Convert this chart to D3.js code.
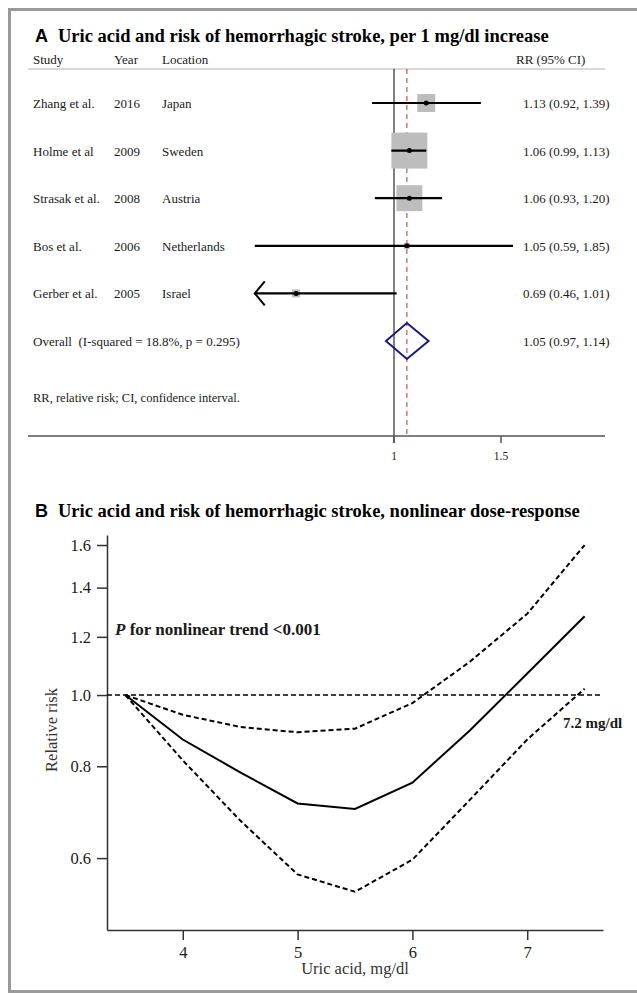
<!DOCTYPE html>
<html>
<head>
<meta charset="utf-8">
<script src="https://cdn.jsdelivr.net/npm/d3@7"></script>
<style>
  body { margin: 0; background: #fff; }
  text { font-family: "Liberation Serif", "Times New Roman", serif; fill: #1a1a1a; white-space: pre; }
</style>
</head>
<body>
<svg width="637" height="994"></svg>
<script>
// ---- panel A: forest plot ----
const studies = ["Zhang et al.", "Holme et al", "Strasak et al.", "Bos et al.", "Gerber et al."];
const years = ["2016", "2009", "2008", "2006", "2005"];
const locations = ["Japan", "Sweden", "Austria", "Netherlands", "Israel"];
const rr = [1.13, 1.06, 1.06, 1.05, 0.69];
const rrLower = [0.92, 0.99, 0.93, 0.59, 0.46];
const rrUpper = [1.39, 1.13, 1.20, 1.85, 1.01];
const weights = [13.5, 54, 28, 1.5, 2.7];
const overallRR = [1.05, 0.97, 1.14];
const forestTicks = [1, 1.5];
const forestLimits = [0.59, 1.57];

// ---- panel B: dose-response ----
const uricAcid = [3.5, 4, 4.5, 5, 5.5, 6, 6.5, 7, 7.5];
const rrCurve = [1.0, 0.87, 0.785, 0.712, 0.70, 0.76, 0.895, 1.07, 1.28];
const rrCurveLow = [1.0, 0.815, 0.675, 0.57, 0.54, 0.597, 0.72, 0.87, 1.02];
const rrCurveHigh = [1.0, 0.94, 0.905, 0.89, 0.90, 0.975, 1.11, 1.29, 1.60];
const yTicksB = [0.6, 0.8, 1.0, 1.2, 1.4, 1.6];
const xTicksB = [4, 5, 6, 7];
const yLimitsB = [0.479, 1.651];
const xLimitsB = [3.34, 7.66];

let svg = d3.select("svg");

// gray frame
svg.append("rect")
    .attr("x", 9.5).attr("y", 9.5)
    .attr("width", 700).attr("height", 982)
    .attr("fill", "none")
    .attr("stroke", "#9a9a9a")
    .attr("stroke-width", 3);

function panelTitle(letter, label, y) {
    svg.append("text")
        .attr("x", 35).attr("y", y)
        .style("font-family", "Liberation Sans, Arial, sans-serif")
        .style("font-weight", "bold")
        .style("font-size", "18px")
        .style("fill", "#000")
        .text(letter);
    svg.append("text")
        .attr("x", 58).attr("y", y)
        .style("font-weight", "bold")
        .style("font-size", "18.5px")
        .style("fill", "#000")
        .text(label);
}

drawForest();
drawDoseResponse();

function drawForest() {
    panelTitle("A", "Uric acid and risk of hemorrhagic stroke, per 1 mg/dl increase", 42);

    let x = d3.scaleLog().domain(forestTicks).range([394, 501]);
    let xMin = x(forestLimits[0]), xMax = x(forestLimits[1]);
    let y = d3.scaleLinear().domain([0, studies.length]).range([103, 341]);
    let box = d3.scaleSqrt().domain([0, d3.max(weights)]).range([0, 36]);

    let cols = [33, 114, 162, 523];
    let g = svg.append("g").attr("class", "forest");

    // header
    ["Study", "Year", "Location", "RR (95% CI)"].forEach(function(h, i) {
        g.append("text").attr("x", i == 3 ? 516 : cols[i]).attr("y", 64)
            .style("font-size", "13px").text(h);
    });
    g.append("line")
        .attr("x1", 28).attr("x2", 605).attr("y1", 69).attr("y2", 69)
        .attr("stroke", "#b0b0b0").attr("stroke-width", 1);

    // null line and overall line
    g.append("line")
        .attr("x1", x(1)).attr("x2", x(1)).attr("y1", 69).attr("y2", 443)
        .attr("stroke", "#000").attr("stroke-width", 1);
    g.append("line")
        .attr("x1", x(overallRR[0])).attr("x2", x(overallRR[0])).attr("y1", 69).attr("y2", 436)
        .attr("stroke", "#b83232").attr("stroke-width", 1)
        .attr("stroke-dasharray", "5,4");

    let rows = g.selectAll("g.row")
        .data(studies)
        .enter().append("g").attr("class", "row")
        .attr("transform", function(d, i) { return "translate(0," + y(i) + ")"; });

    rows.append("text").attr("x", cols[0]).attr("y", 5).style("font-size", "13px").text(function(d) { return d; });
    rows.append("text").attr("x", cols[1]).attr("y", 5).style("font-size", "13px").text(function(d, i) { return years[i]; });
    rows.append("text").attr("x", cols[2]).attr("y", 5).style("font-size", "13px").text(function(d, i) { return locations[i]; });
    rows.append("text").attr("x", cols[3]).attr("y", 5).style("font-size", "13px")
        .text(function(d, i) { return rr[i].toFixed(2) + " (" + rrLower[i].toFixed(2) + ", " + rrUpper[i].toFixed(2) + ")"; });

    rows.append("rect")
        .attr("x", function(d, i) { return x(rr[i]) - box(weights[i]) / 2; })
        .attr("y", function(d, i) { return -box(weights[i]) / 2; })
        .attr("width", function(d, i) { return box(weights[i]); })
        .attr("height", function(d, i) { return box(weights[i]); })
        .attr("fill", "#bdbdbd");

    rows.append("line")
        .attr("x1", function(d, i) { return Math.max(xMin, x(rrLower[i])); })
        .attr("x2", function(d, i) { return Math.min(xMax, x(rrUpper[i])); })
        .attr("y1", 0).attr("y2", 0)
        .attr("stroke", "#000").attr("stroke-width", 2.2);

    // arrow where the CI runs past the left of the axis range
    rows.filter(function(d, i) { return rrLower[i] < forestLimits[0]; })
        .append("path")
        .attr("d", "M" + (xMin + 10) + ",-12L" + xMin + ",0L" + (xMin + 10) + ",12")
        .attr("fill", "none").attr("stroke", "#000").attr("stroke-width", 2);

    rows.append("circle")
        .attr("cx", function(d, i) { return x(rr[i]); })
        .attr("r", 2.5).attr("fill", "#000");

    // overall
    let yo = y(studies.length);
    g.append("text").attr("x", cols[0]).attr("y", yo + 5).style("font-size", "13px")
        .text("Overall  (I-squared = 18.8%, p = 0.295)");
    g.append("text").attr("x", cols[3]).attr("y", yo + 5).style("font-size", "13px")
        .text(overallRR[0].toFixed(2) + " (" + overallRR[1].toFixed(2) + ", " + overallRR[2].toFixed(2) + ")");
    g.append("path")
        .attr("d", "M" + x(overallRR[1]) + "," + yo +
                   "L" + x(overallRR[0]) + "," + (yo - 18) +
                   "L" + x(overallRR[2]) + "," + yo +
                   "L" + x(overallRR[0]) + "," + (yo + 18) + "Z")
        .attr("fill", "none").attr("stroke", "#1a1a80").attr("stroke-width", 2);

    g.append("text").attr("x", cols[0]).attr("y", 402).style("font-size", "12.5px")
        .text("RR, relative risk; CI, confidence interval.");

    // x axis
    g.append("line")
        .attr("x1", 28).attr("x2", 605).attr("y1", 436).attr("y2", 436)
        .attr("stroke", "#555").attr("stroke-width", 1.5);
    let ticks = g.selectAll("g.tick").data(forestTicks).enter().append("g")
        .attr("transform", function(d) { return "translate(" + x(d) + ",436)"; });
    ticks.append("line").attr("y2", 7).attr("stroke", "#555").attr("stroke-width", 1.5);
    ticks.append("text").attr("y", 24).attr("text-anchor", "middle")
        .style("font-size", "11.5px").text(function(d) { return d; });
}

function drawDoseResponse() {
    panelTitle("B", "Uric acid and risk of hemorrhagic stroke, nonlinear dose-response", 517);

    let x = d3.scaleLinear().domain(xLimitsB).range([107, 603]);
    let y = d3.scaleLog().domain(yLimitsB).range([930, 535]);
    let g = svg.append("g").attr("class", "dose");

    let yAxis = g.append("g")
        .attr("transform", "translate(107,0)")
        .call(d3.axisLeft(y).tickValues(yTicksB).tickFormat(d3.format(".1f"))
              .tickSize(10).tickSizeOuter(0).tickPadding(6));
    let xAxis = g.append("g")
        .attr("transform", "translate(0,930)")
        .call(d3.axisBottom(x).tickValues(xTicksB).tickFormat(d3.format("d"))
              .tickSize(10).tickSizeOuter(0).tickPadding(6));

    [yAxis, xAxis].forEach(function(a) {
        a.selectAll("path, line").attr("stroke", "#333").attr("stroke-width", 1.5);
        a.selectAll("text")
            .style("font-family", "Liberation Serif, serif")
            .style("font-size", "16.5px")
            .attr("fill", "#333");
    });

    // reference line at RR = 1
    g.append("line")
        .attr("x1", 107).attr("x2", 602)
        .attr("y1", y(1)).attr("y2", y(1))
        .attr("stroke", "#000").attr("stroke-width", 1.5)
        .attr("stroke-dasharray", "5,3");

    let line = d3.line()
        .x(function(d) { return x(d[0]); })
        .y(function(d) { return y(d[1]); });

    let series = [
        { values: rrCurveHigh, dash: "5,3" },
        { values: rrCurve, dash: null },
        { values: rrCurveLow, dash: "5,3" }
    ];
    g.selectAll("path.curve")
        .data(series)
        .enter().append("path")
        .attr("class", "curve")
        .attr("d", function(s) { return line(uricAcid.map(function(u, i) { return [u, s.values[i]]; })); })
        .attr("fill", "none")
        .attr("stroke", "#000")
        .attr("stroke-width", 2)
        .attr("stroke-dasharray", function(s) { return s.dash; });

    let p = g.append("text").attr("x", 115).attr("y", 635)
        .style("font-weight", "bold").style("font-size", "17px");
    p.append("tspan").style("font-style", "italic").text("P");
    p.append("tspan").text(" for nonlinear trend <0.001");

    g.append("text").attr("x", 563).attr("y", 728)
        .style("font-weight", "bold").style("font-size", "15px")
        .text("7.2 mg/dl");

    g.append("text")
        .attr("transform", "translate(57,730) rotate(-90)")
        .attr("text-anchor", "middle")
        .style("font-size", "16.5px").style("fill", "#333")
        .text("Relative risk");

    g.append("text")
        .attr("x", 355).attr("y", 974)
        .attr("text-anchor", "middle")
        .style("font-size", "16.5px").style("fill", "#333")
        .text("Uric acid, mg/dl");
}
</script>
</body>
</html>
